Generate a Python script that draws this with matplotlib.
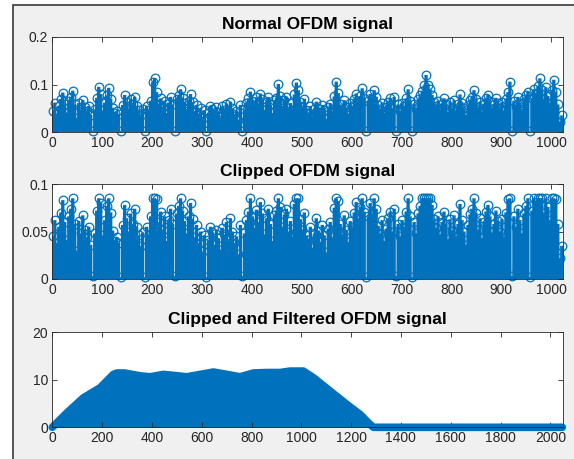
"""
OFDM clipping demo figure: normal, clipped, and clipped+filtered signal.
Three stacked stem panels in the MATLAB default look.
"""

import numpy as np
import matplotlib.pyplot as plt
from matplotlib.patches import Rectangle

plt.rcParams['font.family'] = ['Liberation Sans', 'DejaVu Sans']

# ---------------------------------------------------------------------------
# Data (|x| of the OFDM symbol, every 4th sample, x1e-3)
# ---------------------------------------------------------------------------

normal_ofdm = np.array([
    45, 62, 38, 55, 70, 83, 60, 41, 66, 74, 87, 58, 30, 61, 48, 67,
    52, 44, 55, 36, 3, 48, 72, 95, 80, 46, 62, 77, 93, 70, 51, 40,
    44, 38, 2, 57, 78, 64, 50, 69, 58, 74, 55, 46, 35, 49, 2, 55,
    47, 66, 105, 113, 84, 60, 71, 52, 66, 40, 62, 74, 58, 3, 69, 77,
    90, 72, 61, 48, 66, 80, 63, 44, 57, 38, 50, 29, 46, 2, 41, 55,
    49, 36, 52, 43, 31, 54, 47, 60, 42, 64, 50, 38, 45, 26, 57, 3,
    48, 62, 71, 85, 66, 54, 73, 60, 81, 69, 47, 64, 74, 58, 40, 67,
    72, 101, 76, 55, 68, 74, 50, 61, 45, 79, 104, 88, 63, 52, 70, 46,
    41, 55, 33, 48, 64, 51, 39, 57, 46, 28, 53, 60, 44, 75, 106, 82,
    58, 47, 67, 52, 39, 61, 55, 70, 81, 64, 76, 92, 71, 2, 66, 80,
    69, 88, 74, 56, 48, 62, 40, 53, 64, 71, 50, 74, 3, 58, 45, 62,
    55, 71, 90, 66, 2, 60, 48, 69, 77, 86, 98, 120, 100, 90, 78, 63,
    54, 66, 47, 60, 71, 58, 42, 63, 51, 67, 45, 58, 79, 62, 50, 36,
    57, 68, 74, 88, 70, 52, 64, 43, 60, 71, 78, 66, 49, 58, 72, 61,
    50, 63, 44, 70, 84, 106, 3, 66, 55, 74, 62, 48, 69, 77, 85, 2,
    72, 90, 81, 96, 113, 88, 70, 94, 76, 62, 89, 110, 84, 58, 22, 35,
]) / 1000.0
sample_idx = np.arange(1, 1025, 4)

clip_level = 0.085

# filtered output envelope (sample, amplitude)
filt_x = [0, 58, 125, 192, 245, 260, 290, 353, 393, 446, 486, 540, 594, 647,
          701, 754, 808, 862, 915, 955, 1008, 1049, 1116, 1183, 1236, 1276,
          1290, 2048]
filt_y = [0.0, 3.0, 6.2, 8.3, 11.1, 11.4, 11.4, 10.8, 10.6, 11.1, 10.9, 10.6,
          11.1, 11.6, 11.1, 10.6, 11.4, 11.5, 11.5, 11.8, 11.8, 10.4, 7.6, 4.8,
          2.7, 0.6, 0.0, 0.0]

titles = ["Normal OFDM signal", "Clipped OFDM signal",
          "Clipped and Filtered OFDM signal"]

STEM_BLUE = "#0072BD"
TEXT_GREY = "#262626"
BG_GREY   = "#f0f0f0"

W, H = 574, 459


def px_axes(fig, left, top, right, bottom):
    """Add axes from pixel box (origin top-left)."""
    return fig.add_axes([left / W, 1 - bottom / H, (right - left) / W, (bottom - top) / H])


def style_axes(ax, title):
    ax.set_facecolor("white")
    for sp in ax.spines.values():
        sp.set_color(TEXT_GREY)
        sp.set_linewidth(0.6)
    ax.tick_params(direction="in", top=True, right=True, length=3.5, width=0.6,
                   colors=TEXT_GREY, labelsize=10, pad=3)
    ax.set_title(title, fontsize=12.5, fontweight="bold", color="black", pad=6)


def draw_stems(ax, x, y):
    markerline, stemlines, baseline = ax.stem(x, y, basefmt=" ")
    plt.setp(stemlines, color=STEM_BLUE, linewidth=2.4, snap=False)
    plt.setp(markerline, color=STEM_BLUE, marker="o", markersize=6.2,
             markerfacecolor="none", markeredgewidth=0.9, clip_on=False)
    baseline.set_visible(False)


fig = plt.figure(figsize=(W / 100, H / 100), dpi=100)
fig.patch.set_facecolor("white")
frame = Rectangle((13 / W, -0.05), 1.1, 1 - 5 / H + 0.05, transform=fig.transFigure,
                  facecolor=BG_GREY, edgecolor="#3a3a3a", linewidth=1.2, zorder=-1)
fig.add_artist(frame)

# --- Normal ---
ax1 = px_axes(fig, 52.3, 37, 563.3, 132)
draw_stems(ax1, sample_idx, normal_ofdm)
ax1.set_xlim(0, 1024)
ax1.set_ylim(0, 0.2)
ax1.set_xticks(range(0, 1001, 100))
ax1.set_yticks([0, 0.1, 0.2])
ax1.set_yticklabels(["0", "0.1", "0.2"])
style_axes(ax1, titles[0])

# --- Clipped ---
ax2 = px_axes(fig, 52.3, 184, 563.3, 279)
draw_stems(ax2, sample_idx, np.minimum(normal_ofdm, clip_level))
ax2.set_xlim(0, 1024)
ax2.set_ylim(0, 0.1)
ax2.set_xticks(range(0, 1001, 100))
ax2.set_yticks([0, 0.05, 0.1])
ax2.set_yticklabels(["0", "0.05", "0.1"])
style_axes(ax2, titles[1])

# --- Clipped + filtered ---
ax3 = px_axes(fig, 52.3, 332, 563.3, 427.3)
ax3.fill_between(filt_x, filt_y, 0, color=STEM_BLUE, linewidth=0)
ax3.plot(filt_x, filt_y, color=STEM_BLUE, linewidth=5.5, solid_capstyle="round",
         solid_joinstyle="round", clip_on=False)
ax3.set_xlim(0, 2052)
ax3.set_ylim(0, 20)
ax3.set_xticks(range(0, 2001, 200))
ax3.set_yticks([0, 10, 20])
style_axes(ax3, titles[2])

fig.savefig("out.png", dpi=100)
